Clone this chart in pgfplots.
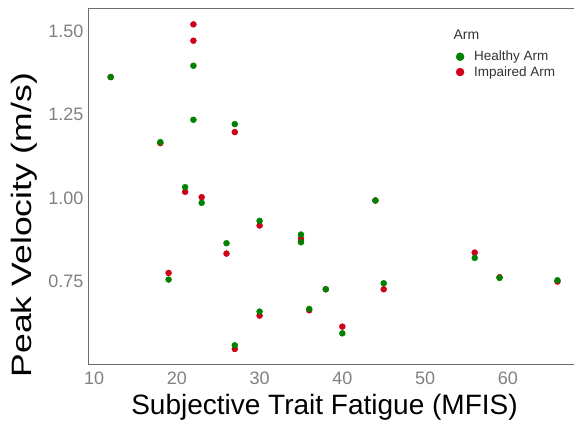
\documentclass[border=0pt]{standalone}
\usepackage{fontspec}
\setmainfont{Liberation Sans}
\usepackage{pgfplots}
\pgfplotsset{compat=1.18}
\definecolor{hgreen}{RGB}{0,130,0}
\definecolor{ired}{RGB}{208,0,24}
\definecolor{tickgray}{RGB}{128,128,128}
\definecolor{framegray}{RGB}{110,110,110}
\begin{document}
\begin{tikzpicture}
\useasboundingbox (-88bp,-60bp) rectangle (486bp,364bp);
\begin{axis}[
  at={(0,0)}, anchor=south west,
  scale only axis, width=486bp, height=356bp,
  xmin=9.26, xmax=68.0, ymin=0.503, ymax=1.570,
  xtick={10,20,30,40,50,60},
  ytick={0.75,1.00,1.25,1.50},
  yticklabel style={/pgf/number format/fixed,/pgf/number format/fixed zerofill,/pgf/number format/precision=2},
  /pgf/number format/assume math mode=true,
  tick label style={font=\fontsize{18bp}{20bp}\selectfont, text=tickgray},
  major tick length=0pt,
  xticklabel style={yshift=-4bp},
  yticklabel style={xshift=-1bp},
  axis x line*=bottom, axis y line*=left,
  axis line style={framegray, line width=0.8bp, -},
  xlabel={Subjective Trait Fatigue (MFIS)},
  ylabel={\scalebox{1.27}[1]{Peak Velocity (m/s)}},
  label style={font=\fontsize{28bp}{30bp}\selectfont, text=black},
  xlabel style={anchor=center, at={(axis description cs:0.4866,-0.121)}},
  ylabel style={anchor=center, at={(axis description cs:-0.1317,0.39)}},
  legend style={at={(rel axis cs:0.757,0.885)}, anchor=north west, draw=none, fill=none,
    font=\fontsize{13.5bp}{15bp}\selectfont, text=black!80, row sep=0bp, inner sep=0pt,
    /tikz/every odd column/.append style={column sep=8bp}},
  legend cell align=left,
  clip=false,
]
\draw[framegray, line width=0.8bp] (rel axis cs:0,1) -- (rel axis cs:1,1);
\node[anchor=west, font=\fontsize{14bp}{16bp}\selectfont, text=black!80] at (rel axis cs:0.745,0.924) {Arm};
\addlegendimage{only marks, mark=*, mark size=4bp, mark options={draw=hgreen, fill=hgreen}}
\addlegendentry{Healthy Arm}
\addlegendimage{only marks, mark=*, mark size=4bp, mark options={draw=ired, fill=ired}}
\addlegendentry{Impaired Arm}
% Impaired arm
\addplot[only marks, mark=*, mark size=3bp, draw=ired, fill=ired, forget plot] coordinates {
(12,1.363) (22,1.521) (22,1.472) (27,1.198) (21,1.019) (23,1.003) (26,0.834)
(19,0.776) (30,0.918) (30,0.648) (27,0.548) (35,0.879) (35,0.870) (44,0.993)
(38,0.727) (36,0.664) (40,0.615) (45,0.727) (56,0.837) (59,0.763) (66,0.750) (18,1.165)
};
% Healthy arm
\addplot[only marks, mark=*, mark size=3bp, draw=hgreen, fill=hgreen, forget plot] coordinates {
(12,1.363) (18,1.168) (22,1.397) (22,1.235) (27,1.222) (21,1.033) (23,0.986)
(26,0.865) (19,0.756) (30,0.932) (30,0.660) (27,0.559) (35,0.891) (35,0.868)
(44,0.993) (38,0.727) (36,0.668) (40,0.595) (45,0.745) (56,0.821) (59,0.761) (66,0.754)
};
\end{axis}
\end{tikzpicture}
\end{document}
